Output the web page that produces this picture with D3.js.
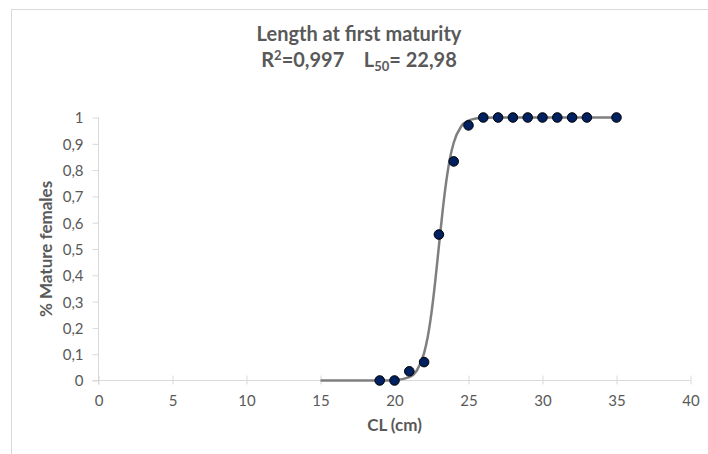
<!DOCTYPE html>
<html>
<head>
<meta charset="utf-8">
<script src="https://cdn.jsdelivr.net/npm/d3@7"></script>
<style>
  html, body { margin: 0; padding: 0; background: #fff; }
  svg { display: block; }
  text { font-family: Lato, "Open Sans", sans-serif; }
</style>
</head>
<body>
<svg id="chart" width="708" height="454"></svg>
<script>
// Observed data
const lengthsCL = [19, 20, 21, 22, 23, 24, 25, 26, 27, 28, 29, 30, 31, 32, 33, 35];
const matureShare = [0, 0, 0.035, 0.07, 0.555, 0.833, 0.97, 1, 1, 1, 1, 1, 1, 1, 1, 1];

// Fitted logistic curve
const curveX = [15, 19, 20, 21, 21.5, 22, 22.25, 22.5, 22.75, 23, 23.25, 23.5, 23.75, 24, 24.5, 25, 25.5, 26, 27, 35];
const curveY = [0, 0, 0.0014, 0.013, 0.037, 0.104, 0.167, 0.258, 0.376, 0.511, 0.644, 0.758, 0.845, 0.904, 0.966, 0.988, 0.996, 0.999, 1, 1];

const xTicks = [0, 5, 10, 15, 20, 25, 30, 35, 40];
const yTicks = [0, 0.1, 0.2, 0.3, 0.4, 0.5, 0.6, 0.7, 0.8, 0.9, 1];

const titleLine1 = "Length at first maturity";
const xTitle = "CL (cm)";
const yTitle = "% Mature females";

const svg = d3.select("#chart");
const W = 708, H = 454;
const textColor = "#595959";
const axisColor = "#d9d9d9";
const FONT = "Lato, 'Open Sans', sans-serif";

// chart border
svg.append("rect").attr("x", 11.5).attr("y", 9.5).attr("width", W).attr("height", H)
  .attr("fill", "#fff").attr("stroke", axisColor).attr("stroke-width", 1);

const x = d3.scaleLinear().domain([0, 40]).range([98.5, 690.5]);
const y = d3.scaleLinear().domain([0, 1]).range([380.5, 117.5]);

// Y axis
const yAxis = svg.append("g").attr("transform", `translate(${x(0)},0)`)
  .call(d3.axisLeft(y).tickValues(yTicks).tickSize(6).tickPadding(10)
    .tickFormat(d => d3.format(".1~f")(d).replace(".", ",")));
yAxis.select(".domain").attr("stroke", axisColor).attr("d", `M0,${y(0) + 4}V${y(1)}`);
yAxis.selectAll(".tick line").attr("stroke", axisColor);
yAxis.selectAll(".tick text").attr("fill", textColor).attr("x", -15).attr("dy", "0.36em")
  .style("font-size", "15px").style("font-family", FONT);

// X axis
const xAxis = svg.append("g").attr("transform", `translate(0,${y(0)})`)
  .call(d3.axisBottom(x).tickValues(xTicks).tickSize(5).tickPadding(10));
xAxis.select(".domain").attr("stroke", axisColor).attr("d", `M${x(0) - 6},0H${x(40)}`);
xAxis.selectAll(".tick line").attr("stroke", axisColor).attr("y1", -5).attr("y2", 4);
xAxis.selectAll(".tick text").attr("fill", textColor).attr("y", 25).attr("dy", 0)
  .style("font-size", "15px").style("font-family", FONT);

// fitted curve
const curveData = curveX.map((v, i) => [v, curveY[i]]);
svg.append("path")
  .datum(curveData)
  .attr("fill", "none")
  .attr("stroke", "#7f7f7f")
  .attr("stroke-width", 2.5)
  .attr("d", d3.line().x(d => x(d[0])).y(d => y(d[1])).curve(d3.curveMonotoneX));

// points
svg.append("g").selectAll("circle")
  .data(lengthsCL.map((v, i) => [v, matureShare[i]]))
  .join("circle")
  .attr("cx", d => x(d[0]))
  .attr("cy", d => y(d[1]))
  .attr("r", 4.8)
  .attr("fill", "#002060")
  .attr("stroke", "#000")
  .attr("stroke-width", 1);

// titles
svg.append("text")
  .attr("x", 359).attr("y", 41)
  .attr("text-anchor", "middle")
  .attr("fill", textColor)
  .style("font-size", "20px").style("font-weight", "bold")
  .text(titleLine1);

const t2 = svg.append("text")
  .attr("x", 359).attr("y", 67)
  .attr("text-anchor", "middle")
  .attr("fill", textColor)
  .style("font-size", "20px").style("font-weight", "bold");
t2.append("tspan").text("R");
t2.append("tspan").attr("dy", -7).style("font-size", "13px").text("2");
t2.append("tspan").attr("dy", 7).text("=0,997\u00A0\u00A0\u00A0\u00A0L");
t2.append("tspan").attr("dy", 4).style("font-size", "13px").text("50");
t2.append("tspan").attr("dy", -4).text("= 22,98");

svg.append("text")
  .attr("x", x(20)).attr("y", 431)
  .attr("text-anchor", "middle")
  .attr("fill", textColor)
  .style("font-size", "17px").style("font-weight", "bold")
  .text(xTitle);

svg.append("text")
  .attr("transform", `translate(52,${y(0.5)}) rotate(-90)`)
  .attr("text-anchor", "middle")
  .attr("fill", textColor)
  .style("font-size", "17px").style("font-weight", "bold")
  .text(yTitle);
</script>
</body>
</html>
